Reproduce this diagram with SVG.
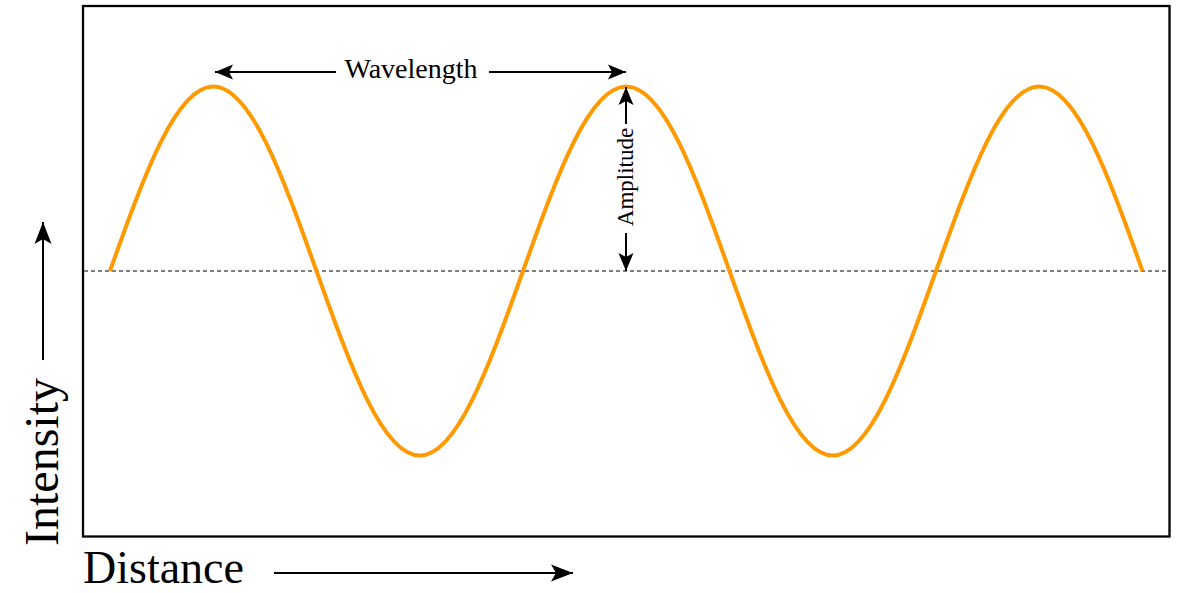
<svg xmlns="http://www.w3.org/2000/svg" width="1181" height="593" viewBox="0 0 1181 593">
<style>
.t{font-family:"Liberation Serif","Times New Roman",serif;fill:#000}
.ln{stroke:#000;stroke-width:2;fill:none}
</style>
<defs>
<marker id="ah" markerUnits="userSpaceOnUse" markerWidth="24" markerHeight="20" viewBox="0 -10 24 20" refX="18" refY="0" orient="auto">
<path d="M18,0 L0,-7.5 L4,0 L0,7.5 Z" fill="#000"/>
</marker>
<marker id="ahL" markerUnits="userSpaceOnUse" markerWidth="26" markerHeight="22" viewBox="0 -11 26 22" refX="22" refY="0" orient="auto">
<path d="M22,0 L0,-8.5 L5,0 L0,8.5 Z" fill="#000"/>
</marker>
</defs>
<rect id="frame" x="83" y="6" width="1086.5" height="530.5" fill="#fff" stroke="#000" stroke-width="2.3"/>
<line id="baseline" x1="84" y1="271" x2="1168" y2="271" stroke="#555" stroke-width="1.3" stroke-dasharray="4 3"/>
<g id="wave">
<path d="M110,271 c34.52,-96.88 66.09,-184.5 103.25,-184.5 c37.16,0 68.73,87.62 103.25,184.5 c34.52,96.88 66.09,184.5 103.25,184.5 c37.16,0 68.73,-87.62 103.25,-184.5 c34.52,-96.88 66.09,-184.5 103.25,-184.5 c37.16,0 68.73,87.62 103.25,184.5 c34.52,96.88 66.09,184.5 103.25,184.5 c37.16,0 68.73,-87.62 103.25,-184.5 c34.52,-96.88 66.09,-184.5 103.25,-184.5 c37.16,0 68.73,87.62 103.25,184.5" fill="none" stroke="#FF9900" stroke-width="4" stroke-linejoin="round"/>
</g>
<g id="connectors">
<line class="ln" x1="336" y1="72" x2="215" y2="72" marker-end="url(#ah)"/>
<line class="ln" x1="489" y1="72" x2="626" y2="72" marker-end="url(#ah)"/>
<line class="ln" x1="626" y1="124" x2="626" y2="87" marker-end="url(#ah)"/>
<line class="ln" x1="626" y1="233" x2="626" y2="271" marker-end="url(#ah)"/>
<line class="ln" x1="43" y1="360" x2="43" y2="222" marker-end="url(#ahL)"/>
<line class="ln" x1="274" y1="573" x2="573" y2="573" marker-end="url(#ahL)"/>
</g>
<g id="wavelength-label">
<text class="t" x="411" y="78" font-size="28" text-anchor="middle">Wavelength</text>
</g>
<g id="amplitude-label">
<text class="t" font-size="23" text-anchor="middle" transform="translate(633,177) rotate(-90)">Amplitude</text>
</g>
<g id="intensity-label">
<text class="t" font-size="48" text-anchor="middle" transform="translate(58,462) rotate(-90)">Intensity</text>
</g>
<g id="distance-label">
<text class="t" x="83" y="583" font-size="46">Distance</text>
</g>
</svg>
